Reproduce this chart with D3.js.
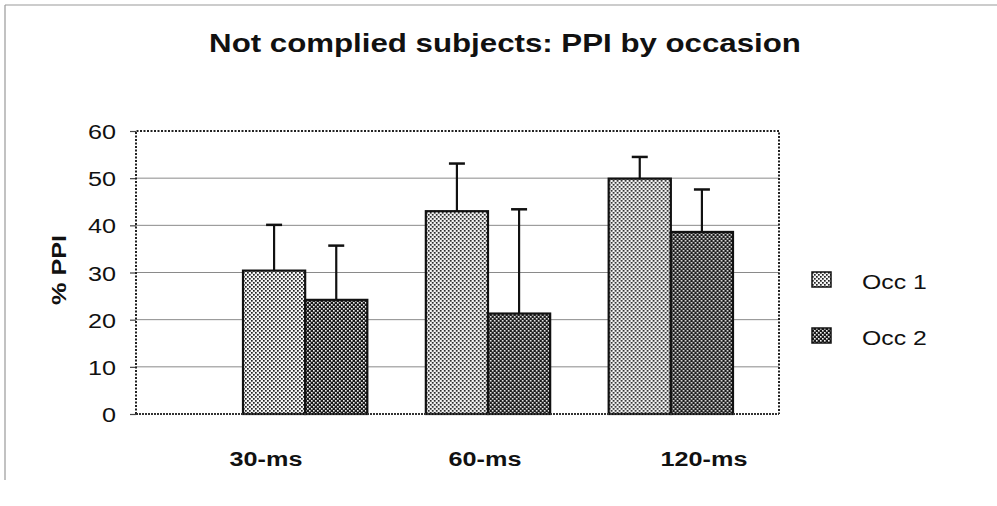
<!DOCTYPE html>
<html><head><meta charset="utf-8">
<script src="https://cdn.jsdelivr.net/npm/d3@7"></script>
<style>body{margin:0;background:#fff}svg{display:block}text{font-family:"Liberation Sans",Arial,sans-serif;fill:#111}</style>
</head><body>
<script>
const categories = ["30-ms", "60-ms", "120-ms"];
const seriesNames = ["Occ 1", "Occ 2"];
const occ1 = [30.4, 43.0, 49.9];
const occ2 = [24.2, 21.3, 38.6];
const occ1Err = [9.7, 10.1, 4.6];
const occ2Err = [11.5, 22.1, 9.0];
const yTicks = [0, 10, 20, 30, 40, 50, 60];
const title = "Not complied subjects: PPI by occasion";
const yLabel = "% PPI";

const W = 997, H = 506;
const plot = {left: 136, right: 779, top: 131, bottom: 414};
const SX = 1.2;

const svg = d3.select("body").append("svg").attr("width", W).attr("height", H);
const defs = svg.append("defs");
const p1 = defs.append("pattern").attr("id", "pat1").attr("patternUnits", "userSpaceOnUse").attr("width", 4).attr("height", 4);
p1.append("rect").attr("width", 4).attr("height", 4).attr("fill", "#f4f4f4");
p1.append("rect").attr("x", 0).attr("y", 0).attr("width", 1.7).attr("height", 1.7).attr("fill", "#222");
p1.append("rect").attr("x", 2).attr("y", 2).attr("width", 1.7).attr("height", 1.7).attr("fill", "#222");
const p2 = defs.append("pattern").attr("id", "pat2").attr("patternUnits", "userSpaceOnUse").attr("width", 4).attr("height", 4);
p2.append("rect").attr("width", 4).attr("height", 4).attr("fill", "#1a1a1a");
p2.append("rect").attr("x", 0).attr("y", 0).attr("width", 1.6).attr("height", 1.6).attr("fill", "#f2f2f2");
p2.append("rect").attr("x", 2).attr("y", 2).attr("width", 1.6).attr("height", 1.6).attr("fill", "#f2f2f2");
const fills = ["url(#pat1)", "url(#pat2)"];

// outer frame
svg.append("line").attr("x1", 5).attr("x2", 5).attr("y1", 5).attr("y2", 480).attr("stroke", "#999").attr("stroke-width", 1.2);
svg.append("line").attr("x1", 5).attr("x2", W).attr("y1", 5).attr("y2", 5).attr("stroke", "#999").attr("stroke-width", 1.2);

const y = d3.scaleLinear().domain([0, 60]).range([plot.bottom, plot.top]);
const x0 = d3.scaleBand().domain(categories).range([243, 733]).paddingInner(0.32).paddingOuter(0);
const x1 = d3.scaleBand().domain(seriesNames).range([0, x0.bandwidth()]);
const xl = d3.scalePoint().domain(categories).range([266, 704]);

// gridlines
svg.append("g").selectAll("line").data(yTicks.filter(t => t > 0 && t < 60)).join("line")
  .attr("x1", plot.left).attr("x2", plot.right)
  .attr("y1", d => y(d)).attr("y2", d => y(d))
  .attr("stroke", "#8a8a8a").attr("stroke-width", 1);

// y axis
const ya = svg.append("g").attr("transform", `translate(${plot.left},0)`)
  .call(d3.axisLeft(y).tickValues(yTicks).tickSize(6).tickFormat(d3.format("d")));
ya.select(".domain").remove();
ya.selectAll(".tick line").attr("stroke", "#444").attr("stroke-width", 1.2);
ya.selectAll(".tick text").attr("x", null).attr("dy", null)
  .attr("transform", `translate(-20,0) scale(${SX},1)`)
  .attr("dy", "0.36em")
  .style("font-size", "21px").style("font-family", '"Liberation Sans", Arial, sans-serif').attr("fill", "#111");

// bars
const data = categories.map((c, i) => ({c, vals: [
  {s: seriesNames[0], v: occ1[i], e: occ1Err[i], k: 0},
  {s: seriesNames[1], v: occ2[i], e: occ2Err[i], k: 1}]}));
const groups = svg.append("g").selectAll("g").data(data).join("g")
  .attr("transform", d => `translate(${x0(d.c)},0)`);
// error bars (behind bars)
groups.selectAll("g.err").data(d => d.vals).join("g").attr("class", "err").each(function(d) {
  const g = d3.select(this);
  const cx = x1(d.s) + x1.bandwidth() / 2;
  g.append("line").attr("x1", cx).attr("x2", cx).attr("y1", y(d.v)).attr("y2", y(d.v + d.e))
    .attr("stroke", "#111").attr("stroke-width", 2.2);
  g.append("line").attr("x1", cx - 8).attr("x2", cx + 8).attr("y1", y(d.v + d.e)).attr("y2", y(d.v + d.e))
    .attr("stroke", "#111").attr("stroke-width", 2.5);
});
groups.selectAll("rect").data(d => d.vals).join("rect")
  .attr("x", d => x1(d.s)).attr("width", x1.bandwidth())
  .attr("y", d => y(d.v)).attr("height", d => y(0) - y(d.v))
  .attr("fill", d => fills[d.k]).attr("stroke", "#111").attr("stroke-width", 2.2);

// plot border (dotted)
svg.append("path")
  .attr("d", `M${plot.left},${plot.bottom}V${plot.top}H${plot.right}V${plot.bottom}`)
  .attr("fill", "none").attr("stroke", "#222").attr("stroke-width", 2).attr("stroke-dasharray", "2,1.5");
svg.append("line").attr("x1", plot.left).attr("x2", plot.right).attr("y1", plot.bottom).attr("y2", plot.bottom)
  .attr("stroke", "#333").attr("stroke-width", 2).attr("stroke-dasharray", "2,1");

// x labels
svg.append("g").selectAll("text").data(categories).join("text")
  .attr("transform", d => `translate(${xl(d)},466) scale(${SX},1)`)
  .attr("text-anchor", "middle").style("font-size", "21px").style("font-weight", "bold").text(d => d);

// y label
svg.append("text").attr("transform", `translate(66,270) rotate(-90) scale(${SX},1)`)
  .attr("text-anchor", "middle").style("font-size", "21px").style("font-weight", "bold").text(yLabel);

// title
svg.append("text").attr("transform", `translate(505,52) scale(1.25,1)`)
  .attr("text-anchor", "middle").style("font-size", "25px").style("font-weight", "bold").text(title);

// legend
const lg = svg.append("g").selectAll("g").data(seriesNames).join("g")
  .attr("transform", (d, i) => `translate(812,${272 + i * 56})`);
lg.append("rect").attr("width", 19).attr("height", 15).attr("fill", (d, i) => fills[i]).attr("stroke", "#111").attr("stroke-width", 1.5);
lg.append("text").attr("transform", `translate(50,17) scale(1.18,1)`).style("font-size", "21px").text(d => d);
</script>
</body></html>
